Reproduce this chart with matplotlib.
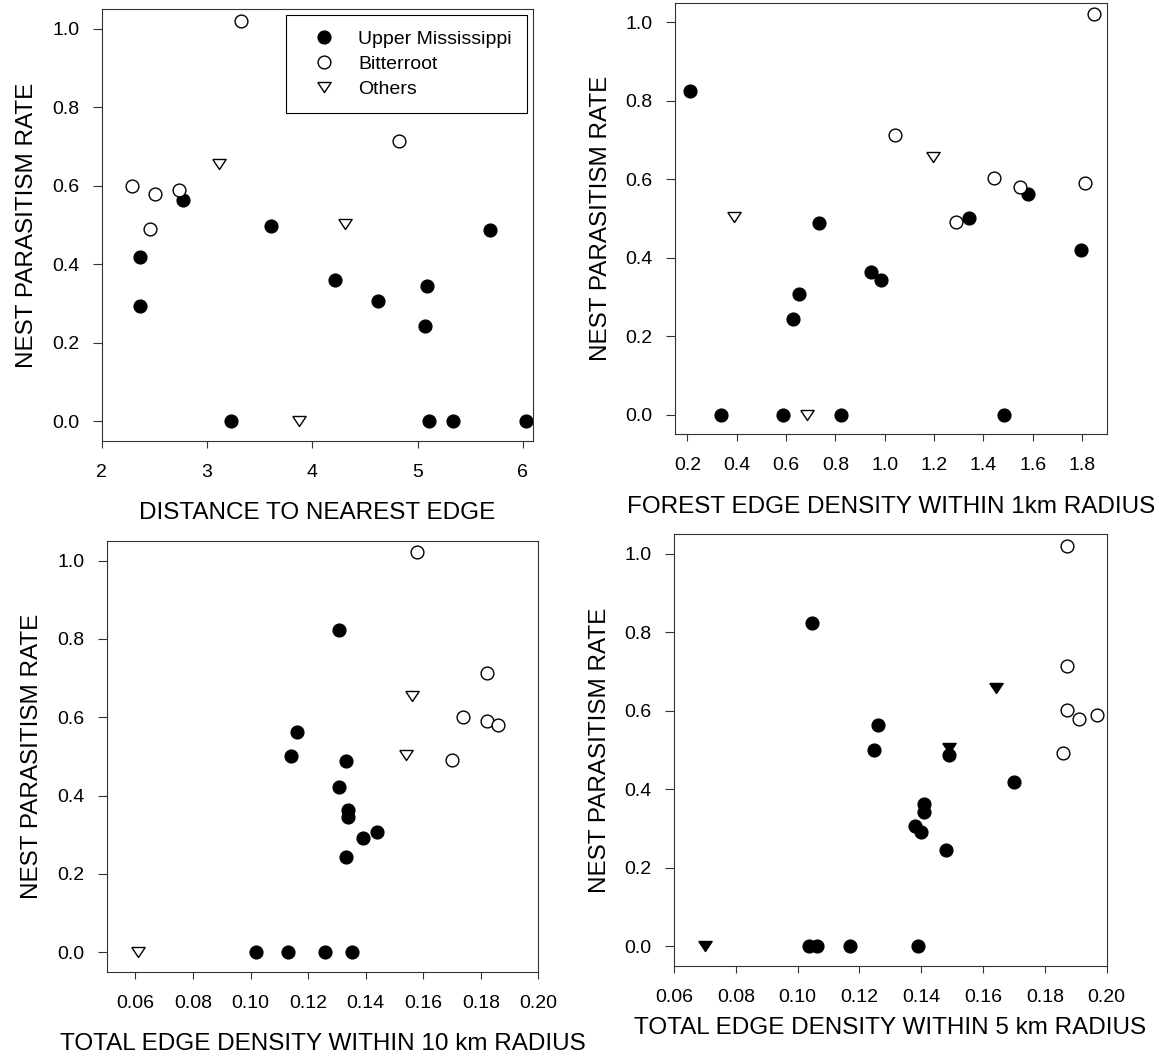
"""Nest parasitism rate against four edge measures, three region groups."""

import matplotlib

matplotlib.use("Agg")
import matplotlib.pyplot as plt

plt.rcParams["font.family"] = ["Liberation Sans", "DejaVu Sans"]

Y_LABEL = "NEST PARASITISM RATE"
GROUPS = ["Upper Mississippi", "Bitterroot", "Others"]

# panel 1: distance to nearest edge
dist_um_x = [2.36, 2.36, 2.77, 3.23, 3.61, 4.22, 4.62, 5.07, 5.09, 5.11, 5.34, 5.69, 6.03]
dist_um_y = [0.420, 0.293, 0.563, 0.0, 0.499, 0.361, 0.306, 0.244, 0.345, 0.0, 0.0, 0.488, 0.0]
dist_bt_x = [2.29, 2.51, 2.46, 2.73, 3.32, 4.82]
dist_bt_y = [0.601, 0.580, 0.490, 0.590, 1.021, 0.714]
dist_ot_x = [3.11, 4.31, 3.87]
dist_ot_y = [0.655, 0.502, 0.0]

# panel 2: forest edge density within 1 km
fed_um_x = [0.21, 0.337, 0.588, 0.63, 0.653, 0.732, 0.822, 0.944, 0.986, 1.341, 1.485, 1.582, 1.796]
fed_um_y = [0.825, 0.0, 0.0, 0.245, 0.307, 0.489, 0.0, 0.363, 0.344, 0.501, 0.0, 0.563, 0.420]
fed_bt_x = [1.043, 1.445, 1.550, 1.291, 1.814, 1.849]
fed_bt_y = [0.714, 0.602, 0.580, 0.491, 0.590, 1.022]
fed_ot_x = [0.39, 1.196, 0.684]
fed_ot_y = [0.503, 0.656, 0.0]

# panel 3: total edge density within 10 km
ted10_um_x = [0.1309, 0.1160, 0.1141, 0.1330, 0.1309, 0.1340, 0.1340, 0.1392, 0.1439, 0.1330,
              0.1018, 0.1130, 0.1260, 0.1352]
ted10_um_y = [0.823, 0.563, 0.500, 0.488, 0.421, 0.362, 0.344, 0.292, 0.306, 0.244,
              0.0, 0.0, 0.0, 0.0]
ted10_bt_x = [0.1579, 0.1820, 0.1740, 0.1820, 0.1861, 0.1700]
ted10_bt_y = [1.021, 0.714, 0.601, 0.591, 0.579, 0.491]
ted10_ot_x = [0.156, 0.154, 0.0608]
ted10_ot_y = [0.655, 0.503, 0.0]

# panel 4: total edge density within 5 km
ted5_um_x = [0.1048, 0.1259, 0.1248, 0.1490, 0.1701, 0.1408, 0.1408, 0.1380, 0.1400, 0.1479,
             0.1037, 0.1062, 0.1170, 0.1389]
ted5_um_y = [0.825, 0.564, 0.501, 0.488, 0.420, 0.363, 0.343, 0.307, 0.292, 0.245,
             0.0, 0.0, 0.0, 0.0]
ted5_bt_x = [0.1870, 0.1870, 0.1870, 0.1909, 0.1970, 0.1860]
ted5_bt_y = [1.021, 0.714, 0.602, 0.580, 0.590, 0.492]
ted5_ot_x = [0.1641, 0.149, 0.0699]
ted5_ot_y = [0.657, 0.506, 0.0]

W, H = 1159, 1059
# a down triangle a bit wider than it is tall, like the original
TRI = [(-1.0, 0.75), (1.0, 0.75), (0.0, -0.75), (-1.0, 0.75)]


def add_panel(fig, box, xlabel, xlim, xticks, fmt, data, others_filled=False, xlabelpad=15.5):
    """Draw one scatter panel. box is (left, top, right, bottom) in pixels."""
    left, top, right, bottom = box
    ax = fig.add_axes([left / W, 1 - bottom / H, (right - left) / W, (bottom - top) / H])

    (um_x, um_y), (bt_x, bt_y), (ot_x, ot_y) = data
    ax.plot(um_x, um_y, "o", ms=9.2, mfc="black", mec="black", mew=1, ls="none", label=GROUPS[0])
    ax.plot(bt_x, bt_y, "o", ms=9.2, mfc="white", mec="black", mew=1, ls="none", label=GROUPS[1])
    ax.plot(ot_x, ot_y, marker=TRI, ms=9.6, mfc="black" if others_filled else "white",
            mec="black", mew=1, ls="none", label=GROUPS[2])

    ax.set_xlim(*xlim)
    ax.set_ylim(-0.05, 1.05)
    ax.set_xticks(xticks)
    ax.set_xticklabels([fmt.format(t) for t in xticks])
    ax.set_yticks([0.0, 0.2, 0.4, 0.6, 0.8, 1.0])
    ax.set_yticklabels(["0.0", "0.2", "0.4", "0.6", "0.8", "1.0"])

    ax.tick_params(direction="out", width=0.8, labelsize=14, color="#333333")
    ax.tick_params(axis="x", length=4.75, pad=11.7)
    ax.tick_params(axis="y", length=6.5, pad=9.5)
    for sp in ax.spines.values():
        sp.set_linewidth(0.8)
        sp.set_color("#333333")

    ax.set_xlabel(xlabel, fontsize=17.5, labelpad=xlabelpad)
    ax.set_ylabel(Y_LABEL, fontsize=17.5, labelpad=10)
    return ax


fig = plt.figure(figsize=(W / 100, H / 100), dpi=100)

ax1 = add_panel(fig, (101.7, 9.3, 533.3, 441), "DISTANCE TO NEAREST EDGE",
                (2, 6.1), [2, 3, 4, 5, 6], "{:.0f}",
                [(dist_um_x, dist_um_y), (dist_bt_x, dist_bt_y), (dist_ot_x, dist_ot_y)])
leg = ax1.legend(loc="upper right", bbox_to_anchor=(0.986, 0.9875), borderaxespad=0,
                 fontsize=14, fancybox=False, edgecolor="black", framealpha=1,
                 borderpad=0.8, handlelength=2.3, handletextpad=0.6, labelspacing=0.38,
                 numpoints=1)
leg.get_frame().set_linewidth(0.8)

add_panel(fig, (675, 2.7, 1106.7, 434.3), "FOREST EDGE DENSITY WITHIN 1km RADIUS",
          (0.15, 1.9), [0.2, 0.4, 0.6, 0.8, 1.0, 1.2, 1.4, 1.6, 1.8], "{:.1f}",
          [(fed_um_x, fed_um_y), (fed_bt_x, fed_bt_y), (fed_ot_x, fed_ot_y)])

add_panel(fig, (106.7, 541, 538.3, 971.7), "TOTAL EDGE DENSITY WITHIN 10 km RADIUS",
          (0.05, 0.20), [0.06, 0.08, 0.10, 0.12, 0.14, 0.16, 0.18, 0.20], "{:.2f}",
          [(ted10_um_x, ted10_um_y), (ted10_bt_x, ted10_bt_y), (ted10_ot_x, ted10_ot_y)])

add_panel(fig, (674, 534.2, 1106.7, 966), "TOTAL EDGE DENSITY WITHIN 5 km RADIUS",
          (0.06, 0.20), [0.06, 0.08, 0.10, 0.12, 0.14, 0.16, 0.18, 0.20], "{:.2f}",
          [(ted5_um_x, ted5_um_y), (ted5_bt_x, ted5_bt_y), (ted5_ot_x, ted5_ot_y)],
          others_filled=True, xlabelpad=8)

fig.savefig("out.png", dpi=100)
plt.close(fig)
